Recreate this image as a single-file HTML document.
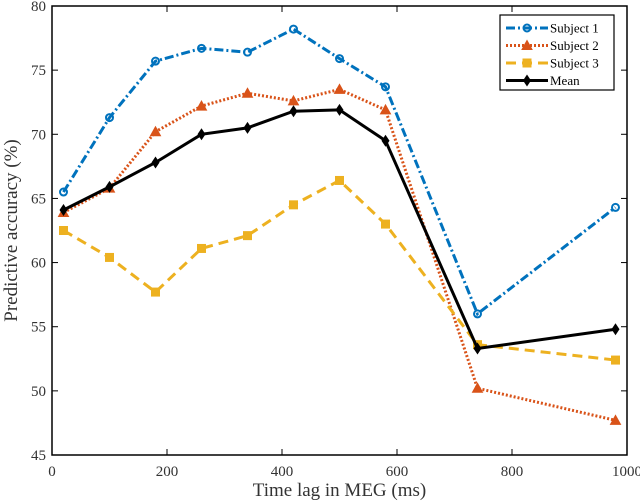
<!DOCTYPE html>
<html><head><meta charset="utf-8"><style>
body{margin:0;background:#fff}
svg{display:block;font-family:"Liberation Serif",serif}
</style></head><body>
<svg id="c" width="640" height="503"></svg>
<script>
const xs=[20,100,180,260,340,420,500,580,740,980];
const s1=[65.5,71.3,75.7,76.7,76.4,78.2,75.9,73.7,56.0,64.3];
const s2=[63.9,65.8,70.2,72.2,73.2,72.6,73.5,71.9,50.2,47.7];
const s3=[62.5,60.4,57.7,61.1,62.1,64.5,66.4,63.0,53.6,52.4];
const mean=[64.1,65.9,67.8,70.0,70.5,71.8,71.9,69.5,53.3,54.8];
const xTicks=[0,200,400,600,800,1000];
const yTicks=[45,50,55,60,65,70,75,80];
const L=52,R=627,T=6,B=455;
const X=v=>L+(v-0)/1000*(R-L);
const Y=v=>B-(v-45)/35*(B-T);
const svg=document.getElementById('c');
const NS='http://www.w3.org/2000/svg';
function el(t,a,p){const e=document.createElementNS(NS,t);for(const k in a)e.setAttribute(k,a[k]);(p||svg).appendChild(e);return e;}
// axes box
const box=el('rect',{x:L,y:T,width:R-L,height:B-T,fill:'none',stroke:'#000','stroke-width':1.5});


xTicks.forEach(v=>{
 el('line',{x1:X(v),x2:X(v),y1:B,y2:B-6,stroke:'#000'});
 el('line',{x1:X(v),x2:X(v),y1:T,y2:T+6,stroke:'#000'});
 const t=el('text',{x:X(v),y:B+21,'text-anchor':'middle','font-size':15,fill:'#333'});t.textContent=v;
 
 
});
yTicks.forEach(v=>{
 el('line',{x1:L,x2:L+6,y1:Y(v),y2:Y(v),stroke:'#000'});
 el('line',{x1:R,x2:R-6,y1:Y(v),y2:Y(v),stroke:'#000'});
 const t=el('text',{x:L-6,y:Y(v)+5,'text-anchor':'end','font-size':15,fill:'#333'});t.textContent=v;
 
 
});
const xt=el('text',{x:(L+R)/2,y:496,'text-anchor':'middle','font-size':19,fill:'#333'});xt.textContent='Time lag in MEG (ms)';


const yt=el('text',{x:0,y:0,'text-anchor':'middle','font-size':19,fill:'#333',transform:`translate(17,${(T+B)/2}) rotate(-90)`});yt.textContent='Predictive accuracy (%)';


function marker(g,type,x,y,c){
 if(type==='o')el('circle',{cx:x,cy:y,r:3.5,fill:'none',stroke:c,'stroke-width':2},g);
 else if(type==='^')el('path',{d:`M${x},${y-5}L${x+5},${y+4}L${x-5},${y+4}Z`,fill:c,stroke:c},g);
 else if(type==='s')el('rect',{x:x-4,y:y-4,width:8,height:8,fill:c,stroke:c},g);
 else el('path',{d:`M${x},${y-6}L${x+4},${y}L${x},${y+6}L${x-4},${y}Z`,fill:c},g);
}
const series=[
 {d:s1,c:'#0072BD',dash:'9,3,2,3',m:'o',n:'Subject 1',id:'subject-1'},
 {d:s2,c:'#D95319',dash:'2,2',m:'^',n:'Subject 2',id:'subject-2'},
 {d:s3,c:'#EDB120',dash:'10,6',m:'s',n:'Subject 3',id:'subject-3'},
 {d:mean,c:'#000',dash:'',m:'d',n:'Mean',id:'mean'}];
series.forEach(s=>{
 const g=el('g',{});
 
 
 el('polyline',{points:xs.map((x,i)=>X(x)+','+Y(s.d[i])).join(' '),fill:'none',stroke:s.c,'stroke-width':3,'stroke-dasharray':s.dash},g);
 xs.forEach((x,i)=>marker(g,s.m,X(x),Y(s.d[i]),s.c));
});
// legend
const lg=el('g',{});


el('rect',{x:500,y:15,width:114,height:75,fill:'#fff',stroke:'#000','stroke-width':1.2},lg);
series.forEach((s,i)=>{
 const y=28+i*17.5;
 const e=el('g',{},lg);
 
 
 el('line',{x1:506,x2:548,y1:y,y2:y,stroke:s.c,'stroke-width':3,'stroke-dasharray':s.dash},e);
 marker(e,s.m,527,y,s.c);
 const t=el('text',{x:550,y:y+4.5,'font-size':13,fill:'#000'},e);t.textContent=s.n;
});
</script>
</body></html>
